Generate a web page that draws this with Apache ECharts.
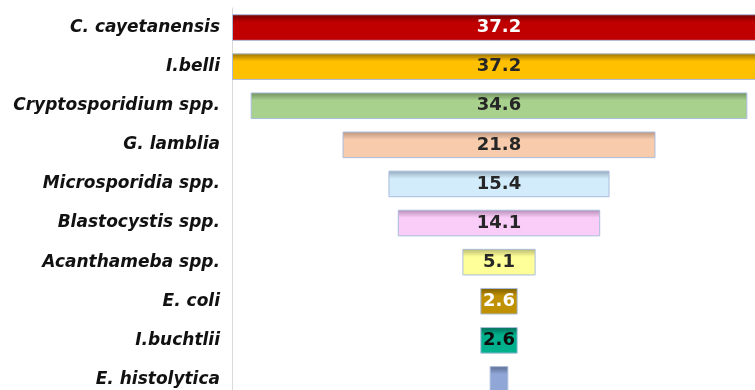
<!DOCTYPE html>
<html>
<head>
<meta charset="utf-8">
<script src="https://cdn.jsdelivr.net/npm/echarts@6/dist/echarts.min.js"></script>
<style>html,body{margin:0;padding:0;background:#fff;}#c{width:755px;height:390px;}</style>
</head>
<body>
<div id="c"></div>
<script>
const categories = ["C. cayetanensis","I.belli","Cryptosporidium spp.","G. lamblia","Microsporidia spp.","Blastocystis spp.","Acanthameba spp.","E. coli","I.buchtlii","E. histolytica"];
const values = [37.2, 37.2, 34.6, 21.8, 15.4, 14.1, 5.1, 2.6, 2.6, 1.3];
const showLabel = [true, true, true, true, true, true, true, true, true, false];

const barColors = ["#C00000","#FFC000","#A9D18E","#F8CBAD","#D2ECFB","#FACCF8","#FFFF99","#BF9000","#00B08C","#8FA6D6"];
const edgeColors = ["#6E0000","#9A7000","#6E8F5C","#B8937C","#93A8B8","#B48CB4","#B8B870","#7A5C00","#006B55","#5A6A90"];
const labelColors = ["#FFFFFF","#262626","#262626","#262626","#262626","#262626","#262626","#FFFFFF","#0D0D0D","#262626"];

const maxV = Math.max(...values);
const spacer = values.map(v => (maxV - v) / 2);

const chart = echarts.init(document.getElementById('c'), null, {renderer: 'canvas'});
chart.setOption({
  animation: false,
  backgroundColor: '#ffffff',
  grid: {left: 232, right: -11, top: 8, bottom: -9, containLabel: false, outerBoundsMode: 'none'},
  xAxis: {type: 'value', min: 0, max: maxV, show: false},
  yAxis: {
    type: 'category', data: categories, inverse: true,
    axisLine: {show: true, lineStyle: {color: '#D9D9D9', width: 1}},
    axisTick: {show: false},
    axisLabel: {
      margin: 12, color: '#111111', fontFamily: 'DejaVu Sans', fontStyle: 'italic',
      fontWeight: 'bold', fontSize: 17, padding: [3, 0, 0, 0]
    }
  },
  series: [
    {
      type: 'bar', stack: 'f', data: spacer, barWidth: '68%', silent: true,
      itemStyle: {color: 'rgba(0,0,0,0)'}
    },
    {
      type: 'bar', stack: 'f', barWidth: '68%',
      data: values.map((v, i) => ({
        value: v,
        itemStyle: {
          color: new echarts.graphic.LinearGradient(0, 0, 0, 1, [
            {offset: 0, color: edgeColors[i]},
            {offset: 0.3, color: barColors[i]},
            {offset: 1, color: barColors[i]}
          ]),
          borderColor: '#A9BCDB', borderWidth: 1
        },
        label: {show: showLabel[i], color: labelColors[i]}
      })),
      label: {
        position: 'inside', fontFamily: 'DejaVu Sans', fontWeight: 'bold', fontSize: 18,
        formatter: p => p.value.toFixed(1)
      }
    }
  ]
});
</script>
</body>
</html>
